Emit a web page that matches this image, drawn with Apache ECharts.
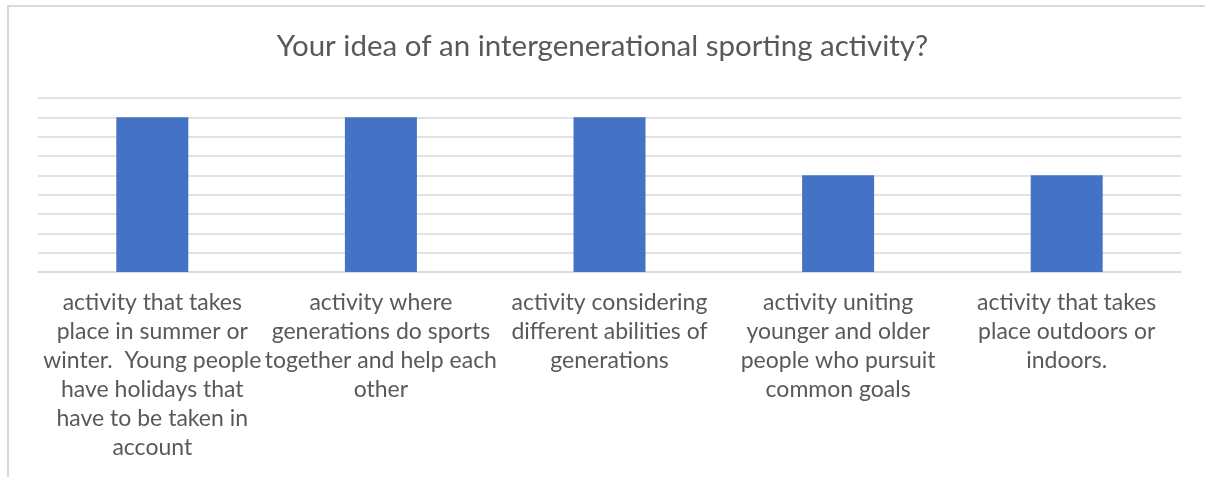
<!DOCTYPE html>
<html>
<head>
<meta charset="utf-8">
<script src="https://cdn.jsdelivr.net/npm/echarts@6/dist/echarts.min.js"></script>
<style>html,body{margin:0;padding:0;background:#fff}#c{width:1205px;height:477px}</style>
</head>
<body>
<div id="c"></div>
<script>
var titleText = 'Your idea of an intergenerational sporting activity?';
var categories = [
  'activity that takes\nplace in summer or\nwinter.  Young people\nhave holidays that\nhave to be taken in\naccount',
  'activity where\ngenerations do sports\ntogether and help each\nother',
  'activity considering\ndifferent abilities of\ngenerations',
  'activity uniting\nyounger and older\npeople who pursuit\ncommon goals',
  'activity that takes\nplace outdoors or\nindoors.'
];
var values = [8, 8, 8, 5, 5];

var chart = echarts.init(document.getElementById('c'), null, {renderer: 'canvas'});
chart.setOption({
  animation: false,
  backgroundColor: '#ffffff',
  title: {
    text: titleText,
    left: 'center',
    top: 26,
    textStyle: {fontFamily: 'Lato', fontSize: 29.5, fontWeight: 'normal', color: '#595959'}
  },
  graphic: [
    {type: 'line', shape: {x1: 8, y1: 5, x2: 8, y2: 477}, style: {stroke: '#d9d9d9', lineWidth: 2}},
    {type: 'line', shape: {x1: 7, y1: 6, x2: 1205, y2: 6}, style: {stroke: '#d9d9d9', lineWidth: 2}}
  ],
  grid: {left: 38, right: 24, top: 98, bottom: 205, containLabel: false},
  xAxis: {
    type: 'category',
    data: categories,
    axisTick: {show: false},
    axisLine: {lineStyle: {color: '#d9d9d9', width: 1.5}},
    axisLabel: {
      interval: 0,
      margin: 16,
      fontFamily: 'Lato',
      fontSize: 23,
      lineHeight: 29,
      color: '#595959',
      align: 'center'
    }
  },
  yAxis: {
    type: 'value',
    min: 0,
    max: 9,
    interval: 1,
    axisLabel: {show: false},
    axisLine: {show: false},
    axisTick: {show: false},
    splitLine: {lineStyle: {color: '#d9d9d9', width: 1.5}}
  },
  series: [{
    type: 'bar',
    data: values,
    barWidth: 72,
    itemStyle: {color: '#4472C4'}
  }]
});
</script>
</body>
</html>
